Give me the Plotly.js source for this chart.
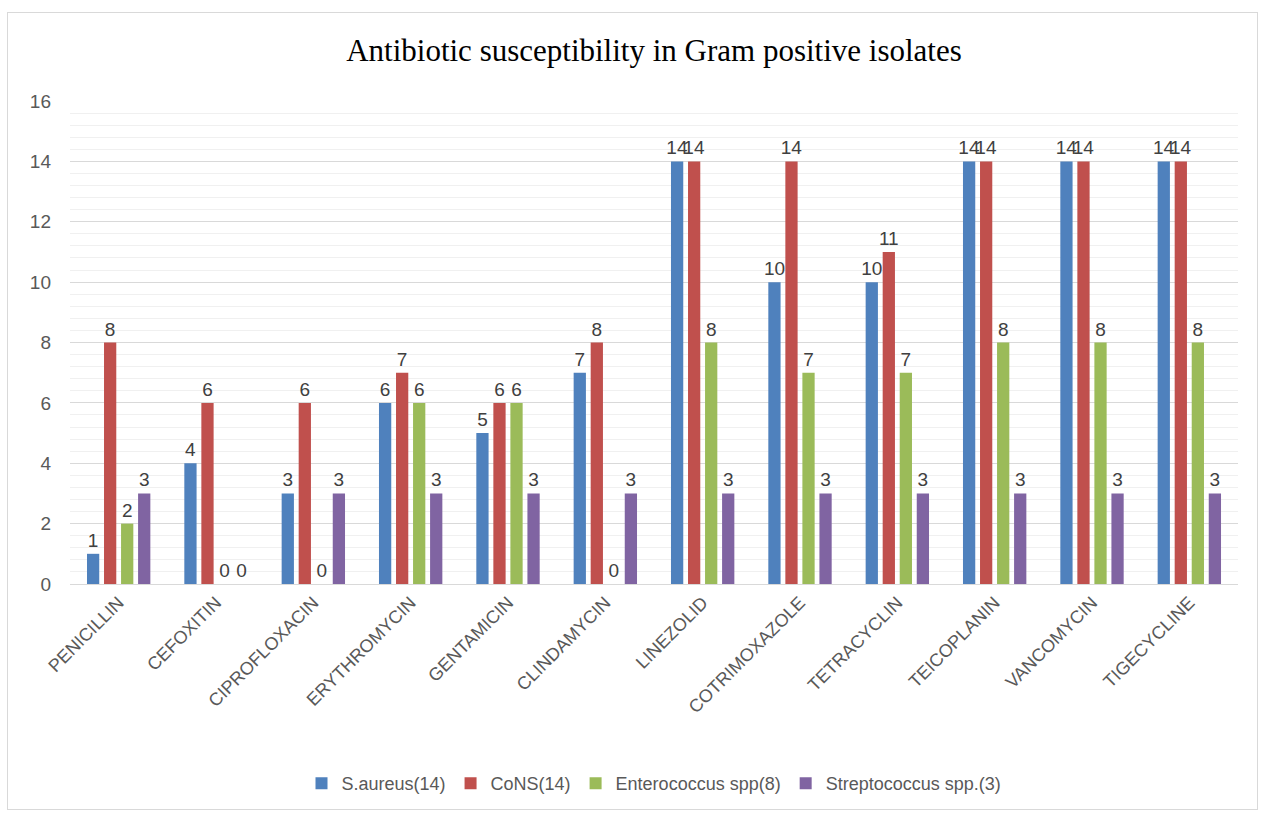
<!DOCTYPE html>
<html>
<head>
<meta charset="utf-8">
<script src="https://cdn.plot.ly/plotly-3.0.1.min.js"></script>
<style>
  html, body { margin: 0; padding: 0; background: #fff; }
  #wrap { position: relative; width: 1261px; height: 813px; }
  #chart { position: absolute; left: 0; top: 0; width: 1261px; height: 813px; }
  #frame { position: absolute; left: 7px; top: 12px; width: 1249px; height: 796px; border: 1px solid #d9d9d9; pointer-events: none; }
</style>
</head>
<body>
<div id="wrap">
  <div id="chart"></div>
  <div id="frame"></div>
</div>
<script>
const categories = ["PENICILLIN", "CEFOXITIN", "CIPROFLOXACIN", "ERYTHROMYCIN", "GENTAMICIN", "CLINDAMYCIN",
  "LINEZOLID", "COTRIMOXAZOLE", "TETRACYCLIN", "TEICOPLANIN", "VANCOMYCIN", "TIGECYCLINE"];
const seriesNames = ["S.aureus(14)", "CoNS(14)", "Enterococcus spp(8)", "Streptococcus spp.(3)"];
const sAureus      = [1, 4, 3, 6, 5, 7, 14, 10, 10, 14, 14, 14];
const cons         = [8, 6, 6, 7, 6, 8, 14, 14, 11, 14, 14, 14];
const enterococcus = [2, 0, 0, 6, 6, 0, 8, 7, 7, 8, 8, 8];
const streptococcus= [3, 0, 3, 3, 3, 3, 3, 3, 3, 3, 3, 3];
const colors = ["#4F81BD", "#C0504D", "#9BBB59", "#8064A2"];

const font = "Liberation Sans Narrow, Liberation Sans, Arial, sans-serif";
const seriesValues = [sAureus, cons, enterococcus, streptococcus];
const traces = seriesValues.map((vals, i) => ({
  type: "bar",
  name: seriesNames[i],
  x: categories,
  y: vals,
  text: vals.map(String),
  textposition: "outside",
  constraintext: "none",
  cliponaxis: false,
  textfont: { family: font, size: 19, color: "#404040" },
  marker: { color: colors[i], line: { width: 0 } },
  hoverinfo: "x+y+name"
}));

const layout = {
  width: 1261,
  height: 813,
  margin: { l: 70, r: 23, t: 101, b: 228 },
  paper_bgcolor: "rgba(0,0,0,0)",
  plot_bgcolor: "#ffffff",
  title: {
    text: "Antibiotic susceptibility in Gram positive isolates",
    font: { family: "Liberation Serif, Times New Roman, serif", size: 31, color: "#000000" },
    x: 0.5, xanchor: "center", xref: "paper",
    y: 52, yref: "container", yanchor: "middle"
  },
  barmode: "group",
  bargap: 0.3,
  bargroupgap: 0.28,
  xaxis: {
    type: "category",
    tickangle: -45,
    tickfont: { family: font, size: 18, color: "#595959" },
    showgrid: false,
    showline: true,
    linecolor: "#d9d9d9",
    linewidth: 1,
    ticks: "",
    fixedrange: true
  },
  yaxis: {
    range: [0, 16],
    dtick: 2,
    tick0: 0,
    tickfont: { family: font, size: 19, color: "#595959" },
    showgrid: true,
    gridcolor: "#d9d9d9",
    gridwidth: 1,
    minor: { dtick: 0.4, showgrid: true, gridcolor: "#f0f0f0", gridwidth: 1 },
    zeroline: false,
    showline: false,
    ticks: "",
    ticklabelstandoff: 18,
    fixedrange: true
  },
  legend: {
    orientation: "h",
    x: 0.5, xanchor: "center",
    y: -0.41, yanchor: "middle",
    font: { family: font, size: 18, color: "#595959" },
    itemwidth: 30,
    traceorder: "normal"
  },
  showlegend: true
};

Plotly.newPlot("chart", traces, layout, { displayModeBar: false, staticPlot: false });
</script>
</body>
</html>
